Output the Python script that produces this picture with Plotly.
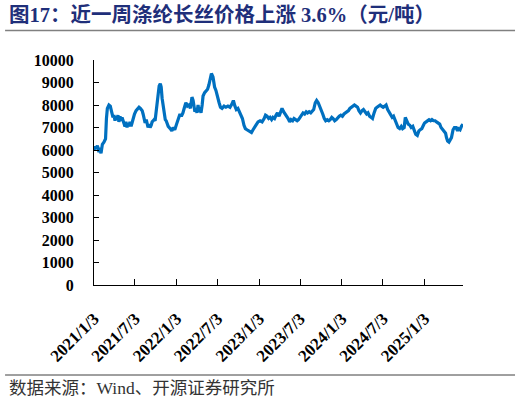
import plotly.graph_objects as go

# 涤纶长丝价格（元/吨），读自原图
dates = [
    "2021-01-03", "2021-01-07", "2021-01-14", "2021-01-18", "2021-01-25", "2021-01-29",
    "2021-02-03", "2021-02-09", "2021-02-16", "2021-02-23", "2021-02-27", "2021-03-03",
    "2021-03-10", "2021-03-16", "2021-03-23", "2021-03-28", "2021-04-01", "2021-04-06",
    "2021-04-10", "2021-04-14", "2021-04-19", "2021-04-23", "2021-04-28", "2021-05-02",
    "2021-05-07", "2021-05-11", "2021-05-15", "2021-05-20", "2021-05-24", "2021-05-29",
    "2021-06-02", "2021-06-07", "2021-06-11", "2021-06-16", "2021-06-20", "2021-06-24",
    "2021-07-01", "2021-07-08", "2021-07-14", "2021-07-21", "2021-07-27", "2021-08-04",
    "2021-08-08", "2021-08-13", "2021-08-17", "2021-08-22", "2021-08-26", "2021-08-30",
    "2021-09-04", "2021-09-08", "2021-09-13", "2021-09-17", "2021-09-22", "2021-09-26",
    "2021-09-30", "2021-10-05", "2021-10-09", "2021-10-14", "2021-10-18", "2021-10-23",
    "2021-10-27", "2021-10-31", "2021-11-05", "2021-11-09", "2021-11-14", "2021-11-18",
    "2021-11-22", "2021-11-27", "2021-12-06", "2021-12-13", "2021-12-19", "2021-12-26",
    "2022-01-03", "2022-01-11", "2022-01-18", "2022-01-24", "2022-01-31", "2022-02-07",
    "2022-02-13", "2022-02-20", "2022-02-27", "2022-03-05", "2022-03-12", "2022-03-17",
    "2022-03-21", "2022-03-25", "2022-03-30", "2022-04-03", "2022-04-08", "2022-04-12",
    "2022-04-17", "2022-04-21", "2022-04-26", "2022-04-30", "2022-05-07", "2022-05-13",
    "2022-05-20", "2022-05-26", "2022-06-02", "2022-06-06", "2022-06-13", "2022-06-20",
    "2022-06-26", "2022-07-03", "2022-07-10", "2022-07-16", "2022-07-23", "2022-08-01",
    "2022-08-09", "2022-08-18", "2022-08-27", "2022-09-05", "2022-09-11", "2022-09-18",
    "2022-09-24", "2022-10-01", "2022-10-08", "2022-10-15", "2022-10-21", "2022-10-28",
    "2022-11-03", "2022-11-10", "2022-11-17", "2022-11-23", "2022-11-30", "2022-12-07",
    "2022-12-13", "2022-12-20", "2022-12-29",
    "2023-01-07", "2023-01-16", "2023-01-25", "2023-01-31", "2023-02-07", "2023-02-14",
    "2023-02-20", "2023-02-27", "2023-03-05", "2023-03-12", "2023-03-19", "2023-03-25",
    "2023-04-01", "2023-04-08", "2023-04-14", "2023-04-21", "2023-04-28", "2023-05-04",
    "2023-05-11", "2023-05-18", "2023-05-24", "2023-05-31", "2023-06-06", "2023-06-13",
    "2023-06-20", "2023-06-26", "2023-07-03", "2023-07-10", "2023-07-16", "2023-07-23",
    "2023-07-30", "2023-08-05", "2023-08-12", "2023-08-19", "2023-08-25", "2023-09-01",
    "2023-09-08", "2023-09-14", "2023-09-21", "2023-09-28", "2023-10-04", "2023-10-11",
    "2023-10-18", "2023-10-24", "2023-10-31", "2023-11-07", "2023-11-13", "2023-11-20",
    "2023-11-26", "2023-12-03", "2023-12-10", "2023-12-16", "2023-12-23", "2023-12-30",
    "2024-01-06", "2024-01-13", "2024-01-19", "2024-01-26", "2024-02-02", "2024-02-08",
    "2024-02-15", "2024-02-22", "2024-02-28", "2024-03-06", "2024-03-13", "2024-03-19",
    "2024-03-26", "2024-04-02", "2024-04-08", "2024-04-15", "2024-04-22", "2024-04-28",
    "2024-05-05", "2024-05-12", "2024-05-18", "2024-05-25", "2024-06-01", "2024-06-07",
    "2024-06-14", "2024-06-21", "2024-06-27", "2024-07-04", "2024-07-11", "2024-07-17",
    "2024-07-24", "2024-07-31", "2024-08-06", "2024-08-13", "2024-08-19", "2024-08-26",
    "2024-09-02", "2024-09-08", "2024-09-15", "2024-09-22", "2024-09-28", "2024-10-05",
    "2024-10-10", "2024-10-16", "2024-10-23", "2024-10-30", "2024-11-05", "2024-11-12",
    "2024-11-19", "2024-11-25", "2024-12-02", "2024-12-09", "2024-12-15", "2024-12-22",
    "2024-12-29",
    "2025-01-03", "2025-01-10", "2025-01-16", "2025-01-23", "2025-01-30", "2025-02-05",
    "2025-02-12", "2025-02-19", "2025-02-25", "2025-03-04", "2025-03-11", "2025-03-17",
    "2025-03-24", "2025-03-31", "2025-04-06", "2025-04-10", "2025-04-15", "2025-04-21",
    "2025-04-28", "2025-05-02", "2025-05-09", "2025-05-15", "2025-05-22", "2025-05-29",
    "2025-06-02", "2025-06-09", "2025-06-15", "2025-06-22",
]
prices = [
    6000, 6150, 6050, 6200, 5900, 6100,
    5850, 6250, 6350, 6500, 7400, 7850,
    8000, 7950, 7650, 7450, 7550, 7300,
    7500, 7350, 7550, 7250, 7500, 7300,
    7450, 7350, 7250, 7050, 7250, 7000,
    7200, 7050, 7250, 7050, 7200, 7400,
    7600, 7750, 7850, 7900, 7850, 7750,
    7600, 7400, 7200, 7350, 7100, 7000,
    7150, 7000, 7100, 7250, 7300, 7350,
    7300, 7700, 8200, 8600, 8850, 8950,
    8800, 8300, 7900, 7600, 7350, 7300,
    7150, 7050, 6950, 6850, 7000, 6900,
    7150, 7450, 7600, 7500, 7650, 7900,
    8100, 7950, 8000, 7850, 8350, 8200,
    7900, 7700, 7850, 7650, 8000, 7700,
    7900, 7650, 8000, 8400, 8550, 8600,
    8700, 8900, 9300, 9400, 9250, 8800,
    8650, 8300, 8100, 7900, 7850, 7950,
    7900, 7950, 7900, 8050, 8200, 7950,
    7800, 7850, 7700, 7600, 7400, 7100,
    6950, 6900, 6850, 6800, 6780, 6900,
    7000, 7150, 7250,
    7300, 7250, 7400, 7550, 7500, 7400,
    7450, 7350, 7450, 7400, 7550, 7650,
    7500, 7700, 7850, 7700, 7600, 7500,
    7400, 7250, 7350, 7300, 7400, 7350,
    7300, 7350, 7450, 7600, 7650, 7600,
    7700, 7650, 7700, 7650, 7750, 7800,
    8100, 8200, 8100, 7950, 7800, 7600,
    7400, 7300, 7350, 7300, 7350, 7450,
    7400, 7300, 7350, 7450, 7500, 7550,
    7500, 7600, 7650, 7700, 7750, 7850,
    7900, 7950, 8000, 7950, 7900, 7750,
    7650, 7750, 7800, 7700, 7600, 7650,
    7500, 7450, 7400, 7650, 7850, 7900,
    7950, 8000, 7950, 7900, 7950, 8000,
    7800, 7650, 7550, 7450, 7500, 7350,
    7150, 7000, 6950, 7050, 6950, 7000,
    7450, 7300, 7150, 7100, 7000, 7050,
    6900, 6700, 6650, 6850, 6900, 6950,
    7100,
    7200, 7250, 7300, 7350, 7300, 7350,
    7300, 7300, 7250, 7200, 7150, 7000,
    6900, 6850, 6750, 6550, 6400, 6350,
    6450, 6550, 6900, 7000, 7000, 6850,
    6950, 6900, 7050, 7150,
]

tick_dates = ["2021-01-03", "2021-07-03", "2022-01-03", "2022-07-03", "2023-01-03",
              "2023-07-03", "2024-01-03", "2024-07-03", "2025-01-03"]
tick_labels = ["2021/1/3", "2021/7/3", "2022/1/3", "2022/7/3", "2023/1/3",
               "2023/7/3", "2024/1/3", "2024/7/3", "2025/1/3"]
y_ticks = [0, 1000, 2000, 3000, 4000, 5000, 6000, 7000, 8000, 9000, 10000]

title_text = "图17：近一周涤纶长丝价格上涨 3.6%（元/吨）"
source_text = "数据来源：Wind、开源证券研究所"

num_font = "Liberation Serif"
cjk_font = "Noto Sans CJK SC"

fig = go.Figure()
fig.add_trace(go.Scatter(
    x=dates, y=prices, mode="lines",
    line=dict(color="#0070C0", width=3.2),
    showlegend=False,
))

fig.update_layout(
    width=522, height=405,
    margin=dict(l=94, r=59, t=60, b=120),
    paper_bgcolor="white", plot_bgcolor="white",
    xaxis=dict(
        type="date",
        range=["2021-01-03", "2025-06-22"],
        tickvals=tick_dates, ticktext=tick_labels,
        tickangle=-45,
        ticks="inside", ticklen=6, tickcolor="black",
        showline=True, linecolor="black", linewidth=1,
        showgrid=False, zeroline=False, automargin=False,
        ticklabelstandoff=16,
        tickfont=dict(family=num_font, size=17, color="black", weight="bold"),
    ),
    yaxis=dict(
        range=[0, 10000],
        tickvals=y_ticks, ticktext=[str(v) for v in y_ticks],
        ticks="inside", ticklen=5, tickcolor="black",
        showline=True, linecolor="black", linewidth=1,
        showgrid=False, zeroline=False, automargin=False,
        ticklabelstandoff=16,
        tickfont=dict(family=num_font, size=16, color="black", weight="bold"),
    ),
    shapes=[
        dict(type="line", xref="paper", yref="paper",
             x0=-0.241, x1=1.141, y0=1.131, y1=1.131,
             line=dict(color="#808080", width=1.5)),
        dict(type="line", xref="paper", yref="paper",
             x0=-0.241, x1=1.141, y0=-0.40, y1=-0.40,
             line=dict(color="#404040", width=1)),
    ],
    annotations=[
        dict(text=title_text, xref="paper", yref="paper",
             x=-0.237, y=1.20, xanchor="left", yanchor="middle", showarrow=False,
             font=dict(family=f"{num_font}, {cjk_font}", size=20.5, color="#1F2F7A", weight="bold")),
        dict(text=source_text, xref="paper", yref="paper",
             x=-0.237, y=-0.458, xanchor="left", yanchor="middle", showarrow=False,
             font=dict(family=f"{num_font}, {cjk_font}", size=17.5, color="#333333")),
    ],
)

# drop the browser's default body margin so the figure sits at the page corner
fig.write_html("out.html", config={"displayModeBar": False},
               post_script="document.body.style.margin = '0';")
